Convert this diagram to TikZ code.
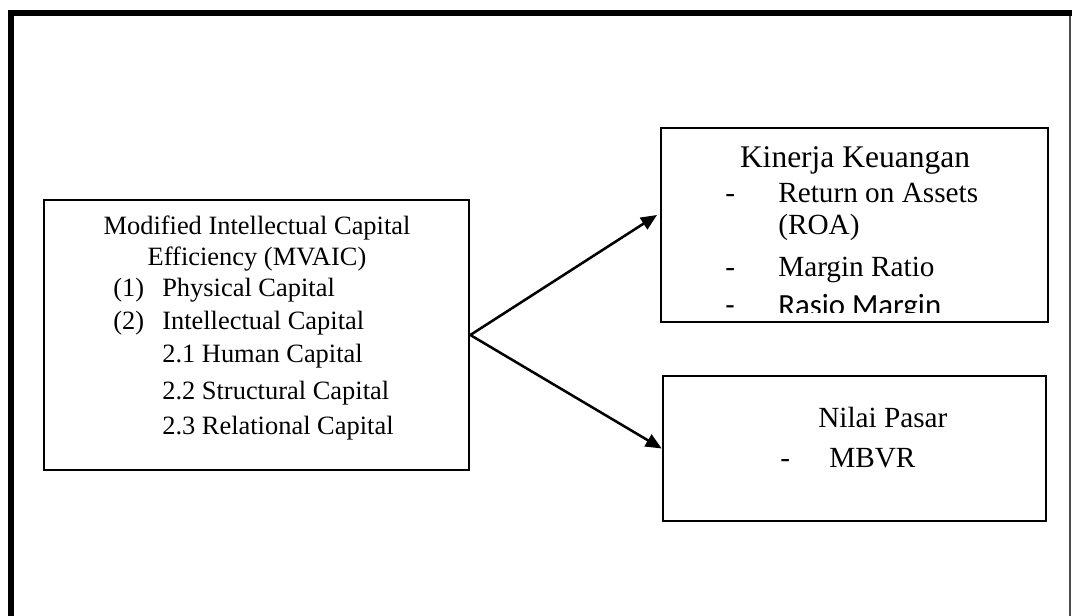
\documentclass[tikz,border=0pt]{standalone}
\usepackage{fontspec}
\setmainfont{Liberation Serif}
\newfontfamily\calibrifont{Carlito}
\usetikzlibrary{arrows.meta}

\begin{document}
\begin{tikzpicture}[
    x=0.025cm, y=-0.025cm,
    box/.style={draw, line width=1.8pt, inner sep=0pt},
    txt/.style={anchor=base west, inner sep=0pt},
    mid/.style={anchor=base, inner sep=0pt},
    lfont/.style={font=\fontsize{18.8}{22}\selectfont},
    rfont/.style={font=\fontsize{20.8}{24}\selectfont},
    link/.style={line width=1.8pt, -{Triangle[length=0.4cm, width=0.34cm]}},
 ]
    \useasboundingbox (0,0) rectangle (1072,616);
    % outer frame
    \draw[line width=4.3pt] (11,616) -- (11,13) -- (1072,13);
    \draw[line width=1pt, black!70] (1070,16) -- (1070,616);

    % boxes
    \node[box, minimum width=10.625cm, minimum height=6.75cm] at (256.5,335) (mvaic) {};
    \node[box, minimum width=9.675cm, minimum height=4.85cm] at (854.5,225) (kinerja) {};
    \node[box, minimum width=9.575cm, minimum height=3.625cm] at (854.5,448.5) (nilai) {};

    % left box text
    \node[mid, lfont] at (257,235) (m1) {Modified Intellectual Capital};
    \node[mid, lfont] at (257,266) (m2) {Efficiency (MVAIC)};
    \node[txt, lfont] at (113,297) (n1) {(1)};
    \node[txt, lfont] at (162,297) (m3) {Physical Capital};
    \node[txt, lfont] at (113,330) (n2) {(2)};
    \node[txt, lfont] at (162,330) (m4) {Intellectual Capital};
    \node[txt, lfont] at (162,363) (m5) {2.1 Human Capital};
    \node[txt, lfont] at (162,399) (m6) {2.2 Structural Capital};
    \node[txt, lfont] at (162,434) (m7) {2.3 Relational Capital};

    % Kinerja Keuangan
    \node[mid, font=\fontsize{22.4}{26}\selectfont] at (855,168) (k0) {Kinerja Keuangan};
    \node[txt, rfont] at (725,203) (d1) {-};
    \node[txt, rfont] at (778,203) (k1) {Return on Assets};
    \node[txt, rfont] at (778,235) (k2) {(ROA)};
    \node[txt, rfont] at (725,277) (d2) {-};
    \node[txt, rfont] at (778,277) (k3) {Margin Ratio};
    \begin{scope}
        \clip (662,129) rectangle (1047,313);
        \node[txt, font=\calibrifont\fontsize{21.9}{26}\selectfont] at (725,316) (d3) {-};
        \node[txt, font=\calibrifont\fontsize{21.9}{26}\selectfont] at (778,316) (k4) {Rasio Margin};
    \end{scope}

    % Nilai Pasar
    \node[txt, rfont] at (818,427) (p0) {Nilai Pasar};
    \node[txt, rfont] at (780,467) (d4) {-};
    \node[txt, rfont] at (829,467) (p1) {MBVR};

    % arrows
    \coordinate (kin) at (657,215);
    \draw[link] (mvaic.east) -- (kin);
    \draw[link] (mvaic.east) -- (nilai.west);
\end{tikzpicture}
\end{document}
